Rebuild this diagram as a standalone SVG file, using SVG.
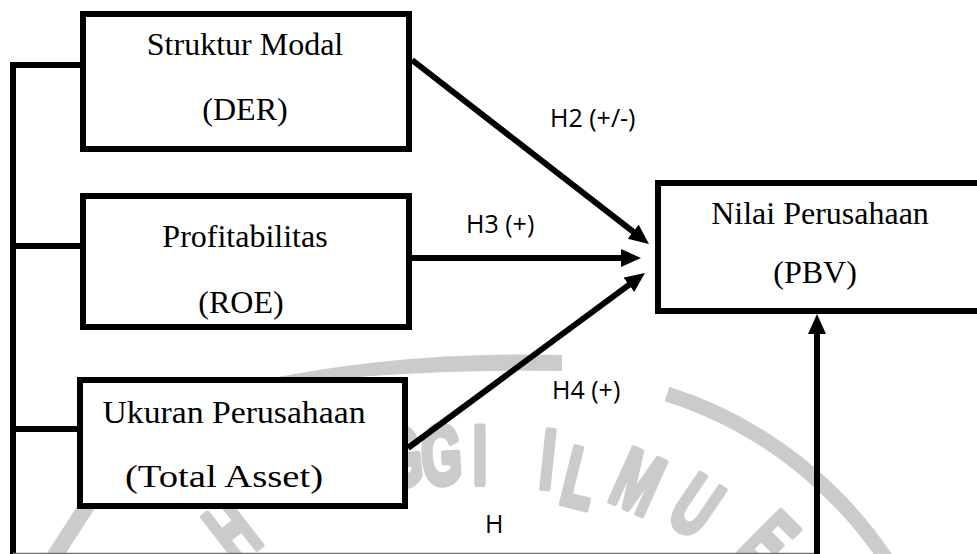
<svg xmlns="http://www.w3.org/2000/svg" width="977" height="554" viewBox="0 0 977 554">
<style>
.box{fill:#fff;stroke:#000;stroke-width:6}
.ln{fill:none;stroke:#000;stroke-width:6}
.lbl{font-family:"Liberation Serif","Times New Roman",serif;font-size:32px;fill:#000;text-anchor:middle}
.hyp{font-family:"Open Sans","Liberation Sans",sans-serif;font-size:25px;fill:#000}
.wm{font-family:"Liberation Sans",Arial,sans-serif;font-weight:bold;font-size:84px;fill:#cbcbcb;stroke:#cbcbcb;stroke-width:6;stroke-linejoin:round;text-anchor:middle}
</style>
<defs>
<marker id="ah" markerUnits="userSpaceOnUse" markerWidth="22" markerHeight="20" refX="6" refY="9" orient="auto">
<path d="M0,0 L20,9 L0,18 Z" fill="#000"/>
</marker>
</defs>
<rect width="977" height="554" fill="#fff"/>
<g id="watermark">
<path d="M230,387 Q390,350 562,355 L562,371 Q400,368 230,390 Z" fill="#cbcbcb"/>
<path d="M667,394 A414,414 0 0 1 910,600" fill="none" stroke="#cbcbcb" stroke-width="15"/>
<path d="M52,560 L92,498" fill="none" stroke="#cbcbcb" stroke-width="16"/>
<text class="wm" transform="translate(250,554) rotate(-38) scale(0.62,1)">H</text>
<text class="wm" transform="translate(405,486) rotate(-6) scale(0.62,1)">G</text>
<text class="wm" transform="translate(443,484) rotate(-3) scale(0.62,1)">G</text>
<text class="wm" transform="translate(480,484) scale(0.62,1)">I</text>
<text class="wm" transform="translate(545,488) rotate(6) scale(0.62,1)">I</text>
<text class="wm" transform="translate(573,506) rotate(14) scale(0.62,1)">L</text>
<text class="wm" transform="translate(626,508) rotate(24) scale(0.62,1)">M</text>
<text class="wm" transform="translate(680,530) rotate(34) scale(0.62,1)">U</text>
<text class="wm" transform="translate(749,561) rotate(45) scale(0.62,1)">E</text>
</g>
<g id="connectors">
<path class="ln" d="M13,62 V554"/>
<path class="ln" d="M13,65 H84"/>
<path class="ln" d="M13,246 H84"/>
<path class="ln" d="M13,429 H81"/>
<path d="M13,553.5 H817" stroke="#707070" stroke-width="1.5" fill="none"/>
<path class="ln" d="M817,554 V328" marker-end="url(#ah)"/>
<path class="ln" d="M412,60 L637.9,235.4" marker-end="url(#ah)"/>
<path class="ln" d="M412,258 L627,258" marker-end="url(#ah)"/>
<path class="ln" d="M408,448 L633.7,281.3" marker-end="url(#ah)"/>
<text class="hyp" x="550" y="127">H2 (+/-)</text>
<text class="hyp" x="466" y="233">H3 (+)</text>
<text class="hyp" x="552" y="399">H4 (+)</text>
<text class="hyp" x="485" y="533">H</text>
</g>
<g id="struktur-modal">
<rect class="box" x="83" y="14" width="326" height="135"/>
<text class="lbl" x="245" y="55">Struktur Modal</text>
<text class="lbl" x="245" y="120">(DER)</text>
</g>
<g id="profitabilitas">
<rect class="box" x="83" y="196" width="326" height="131"/>
<text class="lbl" x="245" y="247">Profitabilitas</text>
<text class="lbl" x="241" y="313">(ROE)</text>
</g>
<g id="ukuran-perusahaan">
<rect class="box" x="80" y="380" width="325" height="126"/>
<text class="lbl" x="234" y="423" textLength="263" lengthAdjust="spacingAndGlyphs">Ukuran Perusahaan</text>
<text class="lbl" x="224" y="487" textLength="198" lengthAdjust="spacingAndGlyphs">(Total Asset)</text>
</g>
<g id="nilai-perusahaan">
<rect class="box" x="658" y="183" width="340" height="128"/>
<text class="lbl" x="820" y="224">Nilai Perusahaan</text>
<text class="lbl" x="815" y="283">(PBV)</text>
</g>
</svg>
